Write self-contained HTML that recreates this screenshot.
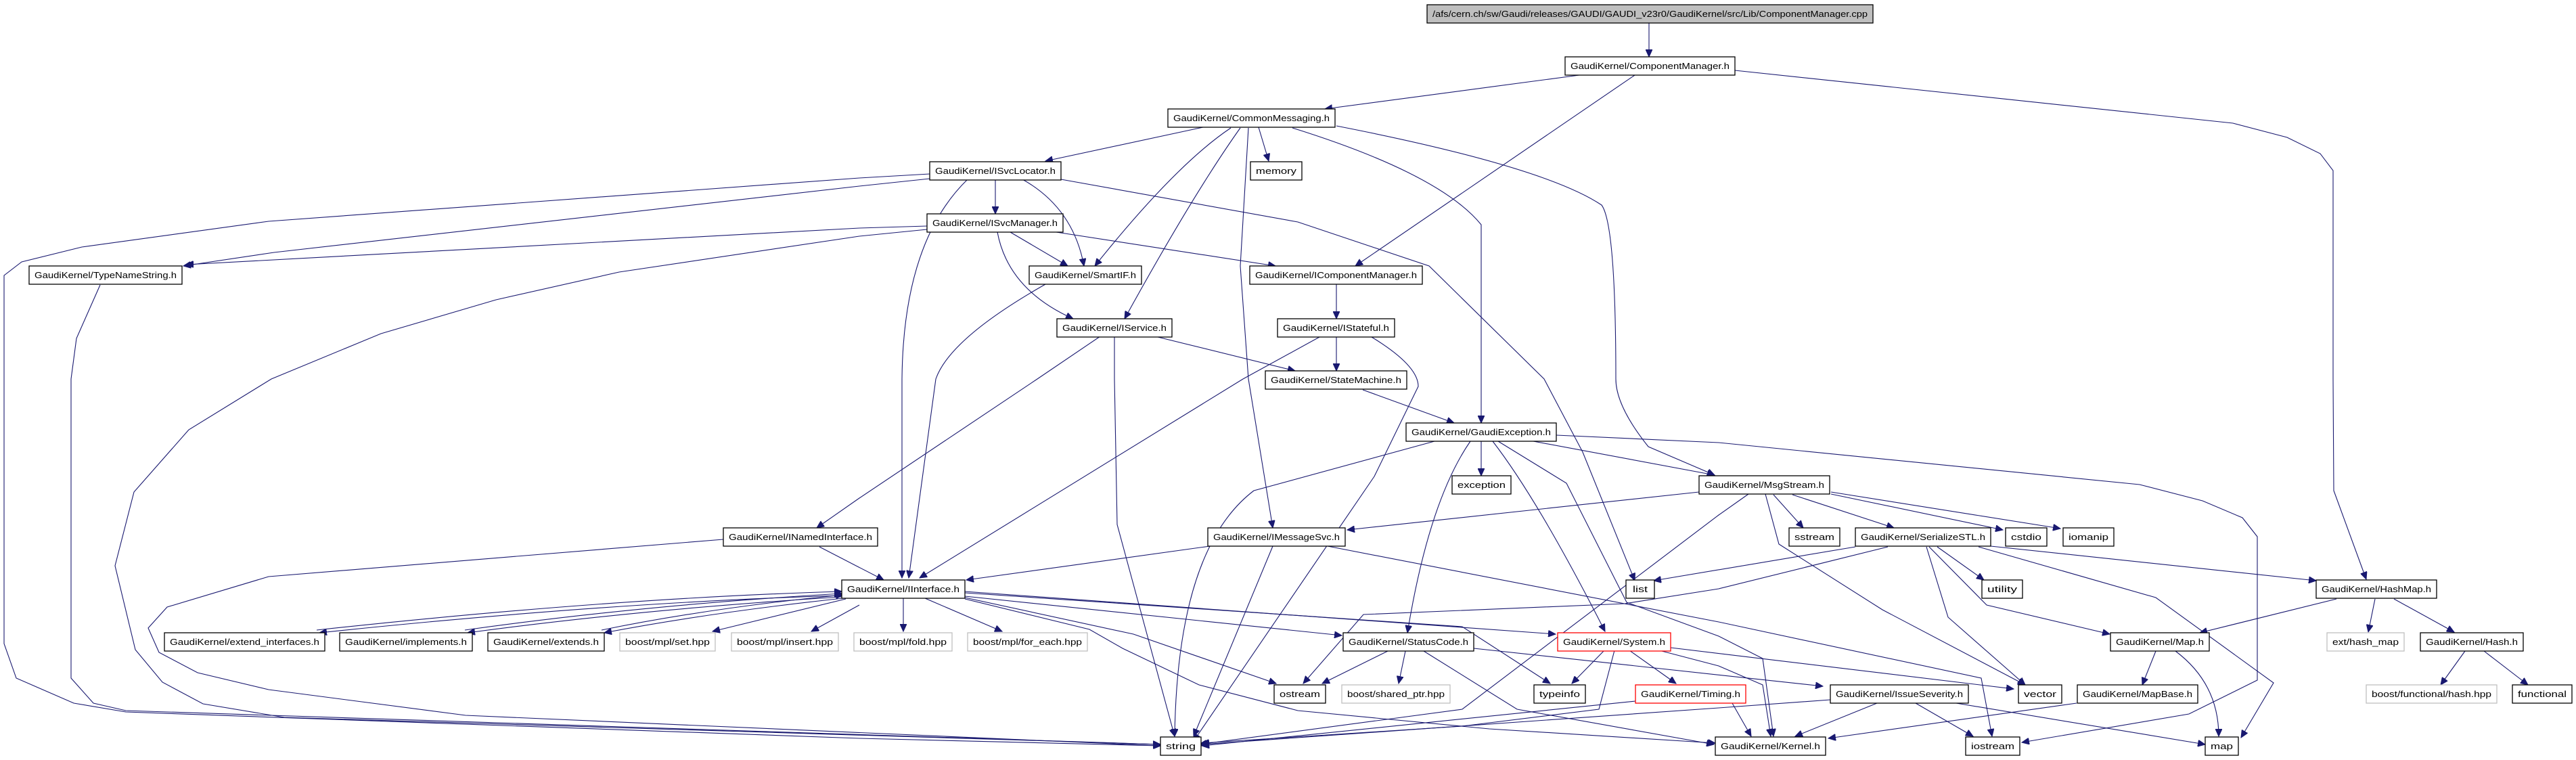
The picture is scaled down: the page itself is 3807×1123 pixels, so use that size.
<!DOCTYPE html>
<html><head><meta charset="utf-8"><style>
html,body{margin:0;padding:0;background:#fff;}
svg{display:block;}
text{font-family:"Liberation Sans",sans-serif;font-size:13px;fill:#000;}
.e{fill:none;stroke:#191970;stroke-width:1.1;marker-end:url(#a);}
.n{fill:#fff;stroke:#000;stroke-width:1.3;}
.g{fill:#fff;stroke:#bfbfbf;stroke-width:1.3;}
.r{fill:#fff;stroke:#ff0000;stroke-width:1.3;}
</style></head><body>
<svg width="3807" height="1123" viewBox="0 0 3807 1123" xmlns="http://www.w3.org/2000/svg">
<defs><marker id="a" markerUnits="userSpaceOnUse" markerWidth="12" markerHeight="10" refX="11" refY="5" orient="auto"><path d="M0,0 L11,5 L0,10 z" fill="#191970" stroke="#191970"/></marker></defs>
<g>
<path class="e" d="M2437,33 L2437,84"/>
<path class="e" d="M2334,111 L1958,161"/>
<path class="e" d="M2416,111 L2003,393"/>
<path class="e" d="M2564,104 L3300,182 L3380,203 L3429,227 L3448,252 L3448,560 L3449,725 L3497,856"/>
<path class="e" d="M1778,188 L1545,238"/>
<path class="e" d="M1819,189 Q1738,243 1618,393"/>
<path class="e" d="M1833,189 Q1764,286 1662,471"/>
<path class="e" d="M1860,188 L1875,238"/>
<path class="e" d="M1845,189 L1833,393 L1845,560 L1881,780"/>
<path class="e" d="M1910,189 Q2128,257 2189,332 L2189,625"/>
<path class="e" d="M1975,186 Q2282,246 2367,303 Q2388,332 2388,560 Q2388,600 2436,660 L2534,702"/>
<path class="e" d="M1374,257 L1270,263 L397,327 L121,365 L32,387 L6,407 L6,951 L24,1002 L109,1039 L186,1052 L1270,1091 L1715,1102"/>
<path class="e" d="M1374,264 L1270,275 L405,373 L271,393"/>
<path class="e" d="M1471,265 L1471,316"/>
<path class="e" d="M1511,265 Q1586,307 1602,393"/>
<path class="e" d="M1430,265 Q1335,357 1333,560 L1333,854"/>
<path class="e" d="M1568,265 L1918,328 L2112,393 L2282,560 L2339,668 L2416,858"/>
<path class="e" d="M1370,334 L1270,337 L275,391"/>
<path class="e" d="M1370,339 L1270,349 L915,402 L733,443 L563,493 L401,560 L279,635 L198,727 L170,836 L200,960 L240,1008 L300,1040 L420,1060 L1715,1100"/>
<path class="e" d="M1493,343 L1578,393"/>
<path class="e" d="M1474,343 Q1490,428 1586,471"/>
<path class="e" d="M1561,343 L1885,393"/>
<path class="e" d="M148,421 L113,500 L105,560 L105,1002 L138,1039 L186,1050 L1715,1100"/>
<path class="e" d="M1545,420 Q1404,500 1383,560 L1343,854"/>
<path class="e" d="M1975,420 L1975,471"/>
<path class="e" d="M1707,497 L1914,548"/>
<path class="e" d="M1626,497 L1533,560 L1270,736 L1207,780"/>
<path class="e" d="M1647,497 L1647,560 L1651,775 L1736,1088"/>
<path class="e" d="M1975,497 L1975,548"/>
<path class="e" d="M1950,498 L1837,560 L1359,854"/>
<path class="e" d="M2027,498 Q2096,540 2096,571 L2031,704 L1764,1095"/>
<path class="e" d="M2014,576 L2149,625"/>
<path class="e" d="M2120,652 L1853,725 Q1740,811 1736,1088"/>
<path class="e" d="M2189,652 L2189,703"/>
<path class="e" d="M2173,652 Q2112,740 2080,935"/>
<path class="e" d="M2206,652 Q2274,740 2372,933"/>
<path class="e" d="M2214,652 L2315,714 L2404,890 L2540,940 L2605,973 L2621,1088"/>
<path class="e" d="M2266,652 L2534,702"/>
<path class="e" d="M2300,643 L2540,654 L3162,716 L3255,740 L3314,765 L3336,793 L3336,1005 L3235,1055 L2988,1097"/>
<path class="e" d="M2511,727 L1991,783"/>
<path class="e" d="M2584,730 L2540,761 L2161,1048 L1772,1100"/>
<path class="e" d="M2621,731 L2665,780"/>
<path class="e" d="M2649,731 L2799,780"/>
<path class="e" d="M2706,730 L2960,783"/>
<path class="e" d="M2706,727 L3045,781"/>
<path class="e" d="M2609,730 L2629,804 L2782,901 L2993,1012"/>
<path class="e" d="M2742,808 L2444,858"/>
<path class="e" d="M2790,808 L2540,870 L2401,892 L2015,908 L1926,1010"/>
<path class="e" d="M2863,808 L2932,857"/>
<path class="e" d="M2847,808 L2879,912 L2993,1012"/>
<path class="e" d="M2851,808 L2936,894 L3118,937"/>
<path class="e" d="M2924,808 L3186,883 L3360,1009 L3312,1090"/>
<path class="e" d="M2942,807 L3423,858"/>
<path class="e" d="M3453,885 L3251,935"/>
<path class="e" d="M3510,885 L3500,934"/>
<path class="e" d="M3538,885 L3627,934"/>
<path class="e" d="M3643,962 L3607,1012"/>
<path class="e" d="M3671,962 L3736,1012"/>
<path class="e" d="M3186,962 L3166,1012"/>
<path class="e" d="M3215,962 Q3279,1010 3279,1088"/>
<path class="e" d="M3069,1039 L2702,1091"/>
<path class="e" d="M2774,1039 L2653,1088"/>
<path class="e" d="M2831,1039 L2916,1088"/>
<path class="e" d="M2891,1039 L3259,1100"/>
<path class="e" d="M2705,1034 L2540,1046 L1776,1100"/>
<path class="e" d="M1788,807 L1428,857"/>
<path class="e" d="M1881,807 L1764,1088"/>
<path class="e" d="M1962,807 L2540,919 L2928,1002 L2944,1088"/>
<path class="e" d="M1069,797 L397,852 L247,897 L219,928 L235,964 L292,994 L397,1019 L688,1057 L1715,1102"/>
<path class="e" d="M1211,808 L1306,857"/>
<path class="e" d="M1244,880 Q900,890 472,935"/>
<path class="e" d="M468,931 Q900,884 1244,874"/>
<path class="e" d="M1244,882 Q950,900 691,935"/>
<path class="e" d="M687,931 Q950,894 1244,877"/>
<path class="e" d="M1246,884 Q1050,905 893,935"/>
<path class="e" d="M889,931 Q1050,898 1246,879"/>
<path class="e" d="M1250,885 L1053,933"/>
<path class="e" d="M1270,894 L1199,933"/>
<path class="e" d="M1335,884 L1335,933"/>
<path class="e" d="M1367,884 L1481,933"/>
<path class="e" d="M1426,881 L1983,939"/>
<path class="e" d="M1426,874 L2299,937"/>
<path class="e" d="M1426,876 L2161,926 L2291,1010"/>
<path class="e" d="M1426,883 L1675,937 L1886,1010"/>
<path class="e" d="M1426,885 L1610,930 L1659,958 L1772,1012 L1918,1050 L2201,1077 L2535,1098"/>
<path class="e" d="M2051,962 L1954,1010"/>
<path class="e" d="M2077,962 L2067,1010"/>
<path class="e" d="M2178,958 L2694,1014"/>
<path class="e" d="M2104,962 L2242,1048 L2533,1100"/>
<path class="e" d="M2371,961 L2323,1010"/>
<path class="e" d="M2408,961 L2477,1010"/>
<path class="e" d="M2386,961 L2363,1048 L2161,1073 L1776,1098"/>
<path class="e" d="M2469,957 L2976,1018"/>
<path class="e" d="M2452,961 L2540,984 L2605,1012 L2617,1088"/>
<path class="e" d="M2560,1039 L2588,1088"/>
<path class="e" d="M2417,1036 L1776,1102"/>
</g>
<g>
<rect x="2109" y="7" width="659" height="27" fill="#bfbfbf" stroke="#000" stroke-width="1.3"/><text x="2117" y="25" textLength="643" lengthAdjust="spacingAndGlyphs">/afs/cern.ch/sw/Gaudi/releases/GAUDI/GAUDI_v23r0/GaudiKernel/src/Lib/ComponentManager.cpp</text>
<rect class="n" x="2313" y="84" width="251" height="27"/><text x="2321" y="102" textLength="235" lengthAdjust="spacingAndGlyphs">GaudiKernel/ComponentManager.h</text>
<rect class="n" x="1726" y="161" width="247" height="27"/><text x="1734" y="179" textLength="231" lengthAdjust="spacingAndGlyphs">GaudiKernel/CommonMessaging.h</text>
<rect class="n" x="1374" y="239" width="194" height="27"/><text x="1382" y="257" textLength="178" lengthAdjust="spacingAndGlyphs">GaudiKernel/ISvcLocator.h</text>
<rect class="n" x="1848" y="239" width="76" height="27"/><text x="1856" y="257" textLength="60" lengthAdjust="spacingAndGlyphs">memory</text>
<rect class="n" x="1370" y="316" width="201" height="27"/><text x="1378" y="334" textLength="185" lengthAdjust="spacingAndGlyphs">GaudiKernel/ISvcManager.h</text>
<rect class="n" x="43" y="393" width="226" height="27"/><text x="51" y="411" textLength="210" lengthAdjust="spacingAndGlyphs">GaudiKernel/TypeNameString.h</text>
<rect class="n" x="1521" y="393" width="166" height="27"/><text x="1529" y="411" textLength="150" lengthAdjust="spacingAndGlyphs">GaudiKernel/SmartIF.h</text>
<rect class="n" x="1847" y="393" width="255" height="27"/><text x="1855" y="411" textLength="239" lengthAdjust="spacingAndGlyphs">GaudiKernel/IComponentManager.h</text>
<rect class="n" x="1562" y="471" width="170" height="27"/><text x="1570" y="489" textLength="154" lengthAdjust="spacingAndGlyphs">GaudiKernel/IService.h</text>
<rect class="n" x="1888" y="471" width="173" height="27"/><text x="1896" y="489" textLength="157" lengthAdjust="spacingAndGlyphs">GaudiKernel/IStateful.h</text>
<rect class="n" x="1870" y="548" width="209" height="27"/><text x="1878" y="566" textLength="193" lengthAdjust="spacingAndGlyphs">GaudiKernel/StateMachine.h</text>
<rect class="n" x="2078" y="625" width="222" height="27"/><text x="2086" y="643" textLength="206" lengthAdjust="spacingAndGlyphs">GaudiKernel/GaudiException.h</text>
<rect class="n" x="2146" y="703" width="87" height="27"/><text x="2154" y="721" textLength="71" lengthAdjust="spacingAndGlyphs">exception</text>
<rect class="n" x="2511" y="703" width="193" height="27"/><text x="2519" y="721" textLength="177" lengthAdjust="spacingAndGlyphs">GaudiKernel/MsgStream.h</text>
<rect class="n" x="2644" y="780" width="75" height="27"/><text x="2652" y="798" textLength="59" lengthAdjust="spacingAndGlyphs">sstream</text>
<rect class="n" x="2742" y="780" width="200" height="27"/><text x="2750" y="798" textLength="184" lengthAdjust="spacingAndGlyphs">GaudiKernel/SerializeSTL.h</text>
<rect class="n" x="2964" y="780" width="61" height="27"/><text x="2972" y="798" textLength="45" lengthAdjust="spacingAndGlyphs">cstdio</text>
<rect class="n" x="3049" y="780" width="75" height="27"/><text x="3057" y="798" textLength="59" lengthAdjust="spacingAndGlyphs">iomanip</text>
<rect class="n" x="1785" y="780" width="203" height="27"/><text x="1793" y="798" textLength="187" lengthAdjust="spacingAndGlyphs">GaudiKernel/IMessageSvc.h</text>
<rect class="n" x="1069" y="780" width="228" height="27"/><text x="1077" y="798" textLength="212" lengthAdjust="spacingAndGlyphs">GaudiKernel/INamedInterface.h</text>
<rect class="n" x="1244" y="857" width="182" height="27"/><text x="1252" y="875" textLength="166" lengthAdjust="spacingAndGlyphs">GaudiKernel/IInterface.h</text>
<rect class="n" x="2403" y="857" width="42" height="27"/><text x="2413" y="875" textLength="22" lengthAdjust="spacingAndGlyphs">list</text>
<rect class="n" x="2929" y="857" width="60" height="27"/><text x="2937" y="875" textLength="44" lengthAdjust="spacingAndGlyphs">utility</text>
<rect class="n" x="3423" y="857" width="178" height="27"/><text x="3431" y="875" textLength="162" lengthAdjust="spacingAndGlyphs">GaudiKernel/HashMap.h</text>
<rect class="n" x="243" y="935" width="237" height="27"/><text x="251" y="953" textLength="221" lengthAdjust="spacingAndGlyphs">GaudiKernel/extend_interfaces.h</text>
<rect class="n" x="502" y="935" width="196" height="27"/><text x="510" y="953" textLength="180" lengthAdjust="spacingAndGlyphs">GaudiKernel/implements.h</text>
<rect class="n" x="721" y="935" width="172" height="27"/><text x="729" y="953" textLength="156" lengthAdjust="spacingAndGlyphs">GaudiKernel/extends.h</text>
<rect class="g" x="916" y="935" width="141" height="27"/><text x="924" y="953" textLength="125" lengthAdjust="spacingAndGlyphs">boost/mpl/set.hpp</text>
<rect class="g" x="1081" y="935" width="158" height="27"/><text x="1089" y="953" textLength="142" lengthAdjust="spacingAndGlyphs">boost/mpl/insert.hpp</text>
<rect class="g" x="1262" y="935" width="145" height="27"/><text x="1270" y="953" textLength="129" lengthAdjust="spacingAndGlyphs">boost/mpl/fold.hpp</text>
<rect class="g" x="1430" y="935" width="177" height="27"/><text x="1438" y="953" textLength="161" lengthAdjust="spacingAndGlyphs">boost/mpl/for_each.hpp</text>
<rect class="n" x="1985" y="935" width="193" height="27"/><text x="1993" y="953" textLength="177" lengthAdjust="spacingAndGlyphs">GaudiKernel/StatusCode.h</text>
<rect class="r" x="2302" y="935" width="167" height="27"/><text x="2310" y="953" textLength="151" lengthAdjust="spacingAndGlyphs">GaudiKernel/System.h</text>
<rect class="n" x="3119" y="935" width="146" height="27"/><text x="3127" y="953" textLength="130" lengthAdjust="spacingAndGlyphs">GaudiKernel/Map.h</text>
<rect class="g" x="3439" y="935" width="114" height="27"/><text x="3447" y="953" textLength="98" lengthAdjust="spacingAndGlyphs">ext/hash_map</text>
<rect class="n" x="3577" y="935" width="152" height="27"/><text x="3585" y="953" textLength="136" lengthAdjust="spacingAndGlyphs">GaudiKernel/Hash.h</text>
<rect class="n" x="1883" y="1012" width="76" height="27"/><text x="1891" y="1030" textLength="60" lengthAdjust="spacingAndGlyphs">ostream</text>
<rect class="g" x="1983" y="1012" width="160" height="27"/><text x="1991" y="1030" textLength="144" lengthAdjust="spacingAndGlyphs">boost/shared_ptr.hpp</text>
<rect class="n" x="2267" y="1012" width="76" height="27"/><text x="2275" y="1030" textLength="60" lengthAdjust="spacingAndGlyphs">typeinfo</text>
<rect class="r" x="2417" y="1012" width="163" height="27"/><text x="2425" y="1030" textLength="147" lengthAdjust="spacingAndGlyphs">GaudiKernel/Timing.h</text>
<rect class="n" x="2705" y="1012" width="204" height="27"/><text x="2713" y="1030" textLength="188" lengthAdjust="spacingAndGlyphs">GaudiKernel/IssueSeverity.h</text>
<rect class="n" x="2983" y="1012" width="64" height="27"/><text x="2991" y="1030" textLength="48" lengthAdjust="spacingAndGlyphs">vector</text>
<rect class="n" x="3070" y="1012" width="178" height="27"/><text x="3078" y="1030" textLength="162" lengthAdjust="spacingAndGlyphs">GaudiKernel/MapBase.h</text>
<rect class="g" x="3497" y="1012" width="193" height="27"/><text x="3505" y="1030" textLength="177" lengthAdjust="spacingAndGlyphs">boost/functional/hash.hpp</text>
<rect class="n" x="3713" y="1012" width="88" height="27"/><text x="3721" y="1030" textLength="72" lengthAdjust="spacingAndGlyphs">functional</text>
<rect class="n" x="1715" y="1089" width="60" height="27"/><text x="1723" y="1107" textLength="44" lengthAdjust="spacingAndGlyphs">string</text>
<rect class="n" x="2535" y="1089" width="163" height="27"/><text x="2543" y="1107" textLength="147" lengthAdjust="spacingAndGlyphs">GaudiKernel/Kernel.h</text>
<rect class="n" x="2905" y="1089" width="80" height="27"/><text x="2913" y="1107" textLength="64" lengthAdjust="spacingAndGlyphs">iostream</text>
<rect class="n" x="3259" y="1089" width="49" height="27"/><text x="3267" y="1107" textLength="33" lengthAdjust="spacingAndGlyphs">map</text>
</g>
</svg>
</body></html>
